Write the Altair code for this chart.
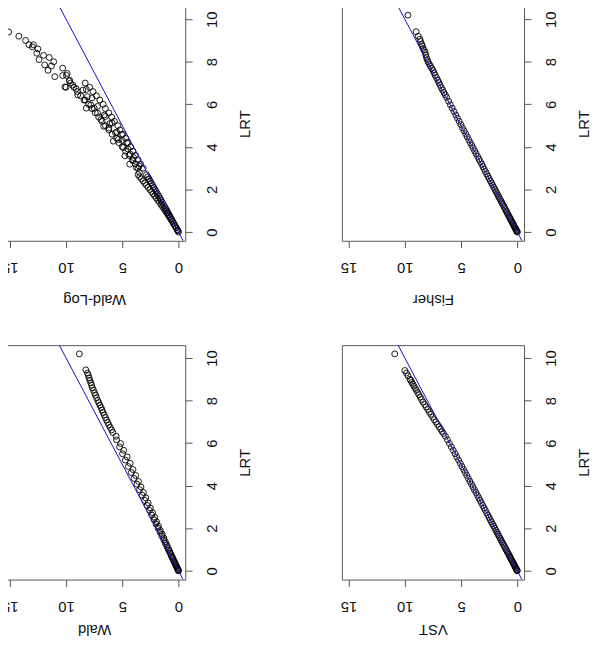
import altair as alt
import pandas as pd

# ---------------- data ----------------
# dense part, shared LRT grid
lrt_dense = [0.00, 0.02, 0.05, 0.08, 0.12, 0.16, 0.20, 0.25, 0.30, 0.35,
             0.40, 0.46, 0.52, 0.58, 0.64, 0.70, 0.77, 0.84, 0.91, 0.98,
             1.05, 1.13, 1.21, 1.29, 1.37, 1.45, 1.54, 1.63, 1.72, 1.81,
             1.90, 2.00, 2.10, 2.20, 2.30, 2.40, 2.51, 2.62, 2.73, 2.84,
             2.95, 3.07, 3.19, 3.31, 3.43, 3.55, 3.68, 3.81, 3.94, 4.07,
             4.20, 4.34, 4.48, 4.62, 4.76, 4.90, 5.05, 5.20, 5.35, 5.50,
             5.66, 5.82, 5.98, 6.15, 6.32]

wald_dense = [0.00, 0.02, 0.04, 0.07, 0.10, 0.15, 0.17, 0.23, 0.26, 0.32,
              0.34, 0.42, 0.44, 0.53, 0.55, 0.64, 0.66, 0.76, 0.78, 0.89,
              0.90, 1.02, 1.03, 1.17, 1.17, 1.31, 1.31, 1.48, 1.46, 1.64,
              1.62, 1.82, 1.78, 2.00, 1.95, 2.18, 2.12, 2.38, 2.31, 2.58,
              2.50, 2.79, 2.70, 3.01, 2.91, 3.23, 3.12, 3.47, 3.34, 3.70,
              3.56, 3.95, 3.81, 4.20, 4.05, 4.46, 4.30, 4.73, 4.57, 4.98,
              4.87, 5.24, 5.15, 5.50, 5.55]

fisher_dense = [0.00, 0.02, 0.05, 0.08, 0.12, 0.16, 0.20, 0.25, 0.30, 0.35,
                0.40, 0.46, 0.52, 0.58, 0.64, 0.70, 0.77, 0.84, 0.91, 0.97,
                1.04, 1.12, 1.20, 1.28, 1.36, 1.44, 1.53, 1.62, 1.71, 1.80,
                1.89, 1.99, 2.09, 2.19, 2.29, 2.39, 2.50, 2.61, 2.72, 2.83,
                2.94, 3.05, 3.17, 3.29, 3.41, 3.53, 3.66, 3.79, 3.92, 4.05,
                4.18, 4.32, 4.46, 4.60, 4.74, 4.88, 5.02, 5.17, 5.32, 5.47,
                5.63, 5.79, 5.95, 6.11, 6.28]

vst_dense = [0.00, 0.02, 0.05, 0.08, 0.12, 0.16, 0.20, 0.25, 0.30, 0.35,
             0.40, 0.46, 0.52, 0.58, 0.64, 0.70, 0.77, 0.84, 0.91, 0.98,
             1.05, 1.13, 1.21, 1.29, 1.37, 1.45, 1.54, 1.63, 1.72, 1.81,
             1.90, 2.00, 2.10, 2.20, 2.30, 2.40, 2.51, 2.62, 2.73, 2.84,
             2.95, 3.07, 3.19, 3.31, 3.43, 3.55, 3.68, 3.81, 3.94, 4.07,
             4.21, 4.35, 4.49, 4.63, 4.77, 4.92, 5.07, 5.22, 5.38, 5.53,
             5.70, 5.86, 6.03, 6.21, 6.39]

# upper, sparser parts: (LRT, statistic)
wald_top = [(10.19, 8.82), (9.44, 8.24), (9.29, 8.09), (9.18, 8.02), (9.06, 7.95),
            (8.95, 7.88), (8.83, 7.80), (8.72, 7.73), (8.60, 7.66), (8.48, 7.56),
            (8.36, 7.46), (8.25, 7.38), (8.13, 7.29), (8.00, 7.18), (7.90, 7.09),
            (7.78, 7.00), (7.67, 6.88), (7.55, 6.80), (7.44, 6.71), (7.32, 6.60),
            (7.20, 6.50), (7.08, 6.40), (6.97, 6.30), (6.86, 6.20), (6.74, 6.07),
            (6.62, 5.95), (6.50, 5.84)]

fisher_top = [(10.19, 9.72), (9.41, 9.00), (9.20, 8.80), (9.06, 8.66), (8.95, 8.60),
              (8.83, 8.50), (8.74, 8.44), (8.63, 8.37), (8.54, 8.28), (8.44, 8.20),
              (8.32, 8.14), (8.20, 8.08), (8.10, 8.00), (8.00, 7.94), (7.90, 7.83),
              (7.80, 7.73), (7.70, 7.62), (7.60, 7.50), (7.48, 7.40), (7.36, 7.30),
              (7.25, 7.18), (7.13, 7.07), (7.02, 6.97), (6.90, 6.87), (6.78, 6.75),
              (6.67, 6.64), (6.55, 6.52), (6.44, 6.40)]

vst_top = [(10.19, 10.90), (9.41, 10.00), (9.29, 9.86), (9.16, 9.72), (9.00, 9.55),
           (8.95, 9.47), (8.85, 9.38), (8.76, 9.28), (8.67, 9.18), (8.57, 9.07),
           (8.48, 8.97), (8.38, 8.86), (8.28, 8.76), (8.16, 8.63), (8.05, 8.52),
           (7.93, 8.38), (7.81, 8.24), (7.70, 8.10), (7.58, 7.96), (7.46, 7.82),
           (7.35, 7.68), (7.22, 7.52), (7.10, 7.38), (6.99, 7.24), (6.88, 7.10),
           (6.77, 6.96), (6.66, 6.82), (6.55, 6.69), (6.45, 6.56)]

waldlog_points = [
    # sparse top
    (9.40, 15.1), (9.20, 14.2), (9.00, 13.6), (8.80, 13.3), (8.80, 12.9), (8.70, 13.0),
    (8.60, 12.5), (8.40, 12.6), (8.30, 12.0), (8.10, 12.4), (8.20, 11.5), (8.00, 11.1),
    (7.85, 11.9), (7.80, 11.3), (7.60, 11.6), (7.30, 11.0), (7.70, 10.3), (7.35, 10.3),
    (7.45, 9.9), (6.80, 10.0), (7.10, 9.7),
    # middle
    (7.36, 9.97), (6.82, 10.1), (7.13, 9.69), (6.90, 9.4), (6.74, 9.1), (6.44, 8.96),
    (6.67, 8.5), (6.20, 8.4), (6.36, 8.1), (5.97, 7.8), (5.82, 8.2), (5.82, 7.5),
    (5.59, 7.2), (5.28, 6.9), (5.43, 6.5), (4.97, 6.65), (4.89, 6.2), (5.12, 5.9),
    (4.66, 5.6), (4.35, 5.35), (4.27, 5.8), (4.58, 5.06), (3.97, 4.9), (4.20, 4.6),
    (3.66, 4.3), (3.58, 4.77), (3.35, 4.05), (3.19, 4.34), (3.04, 3.76), (2.80, 3.47),
    # band
    (3.0, 3.15), (3.0, 3.6), (3.2, 3.38), (3.2, 3.85), (3.4, 3.6), (3.4, 4.1),
    (3.6, 3.82), (3.6, 4.4), (3.8, 4.05), (3.8, 4.7), (4.0, 4.25), (4.0, 5.0),
    (4.2, 4.5), (4.2, 5.3), (4.4, 4.7), (4.4, 5.5), (4.6, 4.95), (4.6, 5.9),
    (4.8, 5.2), (4.8, 6.2), (5.0, 5.4), (5.0, 6.5), (5.2, 5.7), (5.2, 6.8),
    (5.4, 5.95), (5.4, 7.1), (5.6, 6.2), (5.6, 7.4), (5.8, 6.5), (5.8, 7.7),
    (6.0, 6.7), (6.0, 8.0), (6.2, 7.0), (6.2, 8.3), (6.4, 7.3), (6.4, 8.7),
    (6.6, 7.6), (6.6, 9.0), (6.8, 7.9), (6.8, 9.3), (7.0, 8.3), (7.0, 9.6),
    (3.1, 3.5), (3.5, 4.0), (3.9, 4.5), (4.3, 5.0), (4.7, 5.5), (5.1, 6.1),
    (5.5, 6.6), (5.9, 7.2), (6.3, 7.7), (6.7, 8.2),
    # low band
    (0.0, 0.0), (0.05, 0.05), (0.1, 0.1), (0.1, 0.11), (0.2, 0.2), (0.2, 0.22),
    (0.3, 0.31), (0.3, 0.33), (0.4, 0.41), (0.4, 0.45), (0.5, 0.51), (0.5, 0.56),
    (0.6, 0.61), (0.6, 0.68), (0.7, 0.72), (0.7, 0.8), (0.8, 0.82), (0.8, 0.92),
    (0.9, 0.92), (0.9, 1.04), (1.0, 1.03), (1.0, 1.17), (1.1, 1.13), (1.1, 1.3),
    (1.2, 1.24), (1.2, 1.43), (1.3, 1.35), (1.3, 1.56), (1.4, 1.45), (1.4, 1.7),
    (1.5, 1.56), (1.5, 1.84), (1.6, 1.66), (1.6, 1.98), (1.7, 1.77), (1.7, 2.12),
    (1.8, 1.88), (1.8, 2.26), (1.9, 1.98), (1.9, 2.4), (2.0, 2.09), (2.0, 2.55),
    (2.1, 2.2), (2.1, 2.7), (2.2, 2.31), (2.2, 2.85), (2.3, 2.42), (2.3, 3.0),
    (2.4, 2.52), (2.4, 3.15), (2.5, 2.63), (2.5, 3.3), (2.6, 2.74), (2.6, 3.45),
    (2.7, 2.85), (2.7, 3.6),
]

stat_ticks = [0, 5, 10, 15]
lrt_ticks = [0, 2, 4, 6, 8, 10]
stat_domain = [-0.6, 15.6]
lrt_domain = [-0.41, 10.6]
diag = [-0.41, 10.6]  # identity line y = x, within the plot range

PW, PH = 185, 238
FONT = "Liberation Sans"


def make_df(dense_lrt, dense_stat, top):
    lrt = list(dense_lrt) + [p[0] for p in top]
    stat = list(dense_stat) + [p[1] for p in top]
    return pd.DataFrame({"lrt": lrt, "stat": stat})


def panel(df, title, title_offset):
    xs = alt.X("stat:Q", title=title,
               scale=alt.Scale(domain=stat_domain, reverse=True, nice=False, zero=False),
               axis=alt.Axis(values=stat_ticks, orient="bottom", labelAngle=180,
                             labelAlign="center", labelBaseline="middle", labelPadding=20,
                             labelFlush=False, labelOverlap=False, labelBound=False,
                             titleAngle=180, titleAlign="center", titleBaseline="middle",
                             titleX=PW / 2, titleY=title_offset))
    ys = alt.Y("lrt:Q", title="LRT",
               scale=alt.Scale(domain=lrt_domain, nice=False, zero=False),
               axis=alt.Axis(values=lrt_ticks, orient="right", labelAngle=270,
                             labelAlign="center", labelBaseline="middle", labelPadding=20,
                             labelFlush=False, labelOverlap=False, labelBound=False,
                             titleAngle=270, titleAlign="center", titleBaseline="middle",
                             titleX=60, titleY=PH / 2))
    pts = alt.Chart(df).mark_point(shape="circle", filled=False, color="black",
                                   size=36, strokeWidth=0.9, opacity=1, clip=True
                                   ).encode(x=xs, y=ys)
    ldf = pd.DataFrame({"stat": diag, "lrt": diag})
    line = alt.Chart(ldf).mark_line(color="#1010c8", strokeWidth=1, clip=True
                                    ).encode(x=xs, y=ys)
    return alt.layer(pts, line).properties(width=PW, height=PH)


p_waldlog = panel(pd.DataFrame({"lrt": [p[0] for p in waldlog_points],
                                "stat": [p[1] for p in waldlog_points]}), "Wald-Log", 60)
p_fisher = panel(make_df(lrt_dense, fisher_dense, fisher_top), "Fisher", 60)
p_wald = panel(make_df(lrt_dense, wald_dense, wald_top), "Wald", 51)
p_vst = panel(make_df(lrt_dense, vst_dense, vst_top), "VST", 51)

chart = alt.concat(
    p_waldlog, p_fisher, p_wald, p_vst,
    columns=2, spacing={"row": 106, "column": 159}, bounds="flush"
).properties(
    padding={"left": -7, "top": -7.5, "right": 0, "bottom": -2}
).configure_view(
    stroke="#555555", strokeWidth=1
).configure_axis(
    labelFont=FONT, titleFont=FONT, labelFontSize=15, titleFontSize=15,
    titleFontWeight="normal", labelColor="#111111", titleColor="#111111",
    tickColor="#555555", tickSize=7, tickWidth=1, domain=False, grid=False
)

chart.save("out.html", embed_options={"renderer": "svg", "actions": False})
